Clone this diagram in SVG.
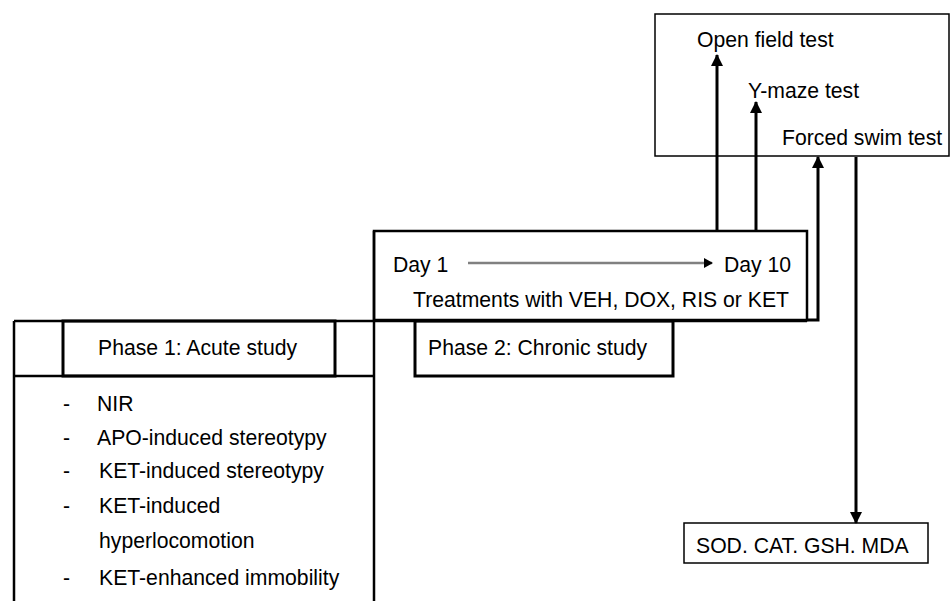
<svg xmlns="http://www.w3.org/2000/svg" width="950" height="601" viewBox="0 0 950 601">
<style>
text{font-family:"Liberation Sans",Arial,sans-serif;font-size:21.2px;fill:#000}
.thin{fill:none;stroke:#000;stroke-width:1.5}
.thick{fill:none;stroke:#000;stroke-width:2.5}
.conn{fill:none;stroke:#000;stroke-width:3}
</style>
<defs>
<marker id="ah" markerWidth="12" markerHeight="12" viewBox="0 0 12 12" refX="11" refY="6" orient="auto" markerUnits="userSpaceOnUse">
<path d="M0,0 L12,6 L0,12 Z" fill="#000"/>
</marker>
<marker id="ahs" markerWidth="9" markerHeight="10" viewBox="0 0 9 10" refX="8" refY="5" orient="auto" markerUnits="userSpaceOnUse">
<path d="M0,0 L9,5 L0,10 Z" fill="#000"/>
</marker>
</defs>
<g id="tests">
<rect class="thin" x="655" y="14" width="294" height="142"/>
<text x="697" y="47">Open field test</text>
<text x="748" y="98">Y-maze test</text>
<text x="782" y="145">Forced swim test</text>
</g>
<g id="chronic-treatment">
<rect class="thick" x="374" y="231" width="433" height="89"/>
<text x="393" y="272">Day 1</text>
<text x="724" y="272">Day 10</text>
<line x1="468" y1="263" x2="712" y2="263" stroke="#808080" stroke-width="2.5" marker-end="url(#ahs)"/>
<text x="413" y="307">Treatments with VEH, DOX, RIS or KET</text>
</g>
<g id="phase-row">
<line class="thick" x1="14" y1="321" x2="807" y2="321"/>
<line class="thick" x1="14" y1="376" x2="374" y2="376"/>
</g>
<g id="phase1">
<rect x="63" y="321" width="272" height="55" fill="none" stroke="#000" stroke-width="3"/>
<text x="98" y="355">Phase 1: Acute study</text>
</g>
<g id="phase2">
<rect x="415" y="321" width="258" height="55" fill="none" stroke="#000" stroke-width="3"/>
<text x="428" y="355">Phase 2: Chronic study</text>
</g>
<g id="acute-list">
<line class="thick" x1="14" y1="321" x2="14" y2="601"/>
<line class="thick" x1="374" y1="231" x2="374" y2="601"/>
<text x="63" y="411">-</text><text x="97" y="411">NIR</text>
<text x="63" y="445">-</text><text x="97" y="445">APO-induced stereotypy</text>
<text x="63" y="478">-</text><text x="99" y="478">KET-induced stereotypy</text>
<text x="63" y="513">-</text><text x="99" y="513">KET-induced</text>
<text x="99" y="548">hyperlocomotion</text>
<text x="63" y="585">-</text><text x="99" y="585">KET-enhanced immobility</text>
</g>
<g id="biochem">
<rect class="thin" x="684" y="523" width="244" height="40"/>
<text x="696" y="553">SOD. CAT. GSH. MDA</text>
</g>
<g id="connectors">
<line class="conn" x1="717" y1="231" x2="717" y2="55" marker-end="url(#ah)"/>
<line class="conn" x1="756" y1="231" x2="756" y2="102" marker-end="url(#ah)"/>
<polyline class="conn" points="807,320 818,320 818,157" marker-end="url(#ah)"/>
<line class="conn" x1="856" y1="157" x2="856" y2="523" marker-end="url(#ah)"/>
</g>
</svg>
